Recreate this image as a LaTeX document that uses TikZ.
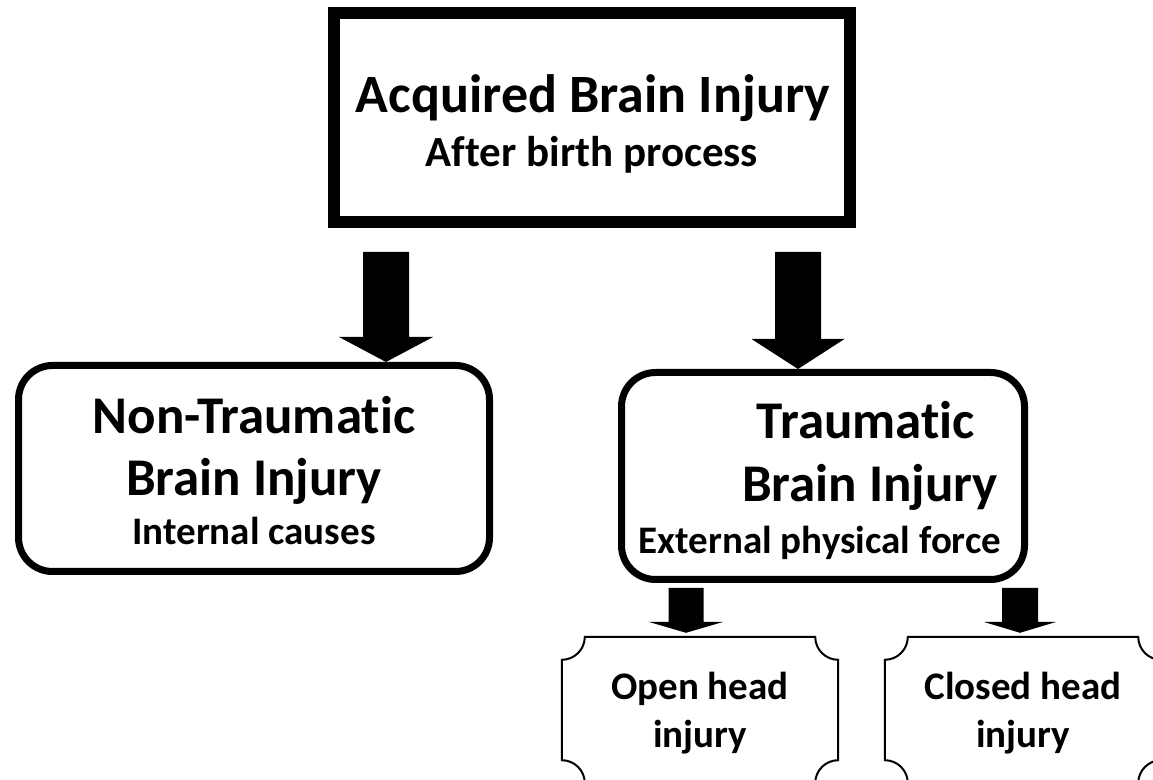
\documentclass[tikz,border=0pt]{standalone}
\usepackage{fontspec}
\setmainfont{Carlito}[Ligatures=NoCommon]
\usetikzlibrary{calc}
\newcommand\myblockarrow[5]{%
  \fill let \p1=(#1), \p2=(#2) in
    (\x1-#3/2,\y1) -- (\x1+#3/2,\y1) -- (\x1+#3/2,\y2+#5) -- (\x1+#4/2,\y2+#5)
    -- (\x1,\y2) -- (\x1-#4/2,\y2+#5) -- (\x1-#3/2,\y2+#5) -- cycle;}
\begin{document}
\begin{tikzpicture}[x=1pt,y=1pt,
  txt/.style={inner sep=0pt, anchor=base},
  big/.style={txt, font=\fontsize{54}{64}\selectfont\bfseries},
  mid/.style={txt, font=\fontsize{53}{62}\selectfont\bfseries},
  sub/.style={txt, font=\fontsize{43}{50}\selectfont\bfseries},
  small/.style={txt, font=\fontsize{39}{46}\selectfont\bfseries},
  tiny/.style={txt, font=\fontsize{39}{46}\selectfont\bfseries},
  topbox/.style={draw, line width=12pt, inner sep=0pt, minimum width=516pt, minimum height=209pt},
  roundbox/.style={draw, line width=7pt, rounded corners=34pt, inner sep=0pt},
  plaque/.style={inner sep=0pt, minimum width=276pt, minimum height=146pt}
]
\useasboundingbox (0,0) rectangle (1153,779);
\clip (0,0) rectangle (1153,779);

% top box
\node[topbox] (abi) at (592,661.5) {};
\node[big] (abi1) at (593,666) {Acquired Brain Injury};
\node[sub] (abi2) at (592,612) {After birth process};

% non-traumatic
\node[roundbox, minimum width=471pt, minimum height=206pt] (nt) at (254,310.5) {};
\node[mid] (nt1) at (254,345) {Non-Traumatic};
\node[mid] (nt2) at (254,283) {Brain Injury};
\node[small] (nt3) at (254,234) {Internal causes};

% traumatic
\node[roundbox, minimum width=403pt, minimum height=207pt] (tb) at (823,303) {};
\node[mid] (tb1) at (866,340) {Traumatic};
\node[mid] (tb2) at (870,277) {Brain Injury};
\node[small] (tb3) at (820,225) {External physical force};

% plaques
\node[plaque] (oh) at (700,69) {};
\node[plaque] (ch) at (1023,69) {};
\foreach \bx in {oh,ch}{
  \draw[line width=2pt] let \p1=(\bx.south west), \p2=(\bx.north east) in
    (\x1+23,\y2) -- (\x2-23,\y2) arc[start angle=180,end angle=270,radius=23]
    -- (\x2,\y1+23) arc[start angle=90,end angle=180,radius=23]
    -- (\x1+23,\y1) arc[start angle=0,end angle=90,radius=23]
    -- (\x1,\y2-23) arc[start angle=-90,end angle=0,radius=23] -- cycle;
}
\node[tiny] (oh1) at (700,80) {Open head};
\node[tiny] (oh2) at (700,32) {injury};
\node[tiny] (ch1) at (1023,80) {Closed head};
\node[tiny] (ch2) at (1023,32) {injury};

% arrows
\coordinate (a1s) at (386,527);
\coordinate (a2s) at (798,527);
\coordinate (a3s) at (686,191);
\coordinate (a4s) at (1020,191);
\myblockarrow{a1s}{a1s |- nt.north}{46pt}{94pt}{25pt}
\myblockarrow{a2s}{a2s |- tb.north}{46pt}{93pt}{30pt}
\myblockarrow{a3s}{$(a3s |- oh.north)+(0,4)$}{35pt}{75pt}{11pt}
\myblockarrow{a4s}{$(a4s |- ch.north)+(0,4)$}{36pt}{73pt}{11pt}
\end{tikzpicture}
\end{document}
